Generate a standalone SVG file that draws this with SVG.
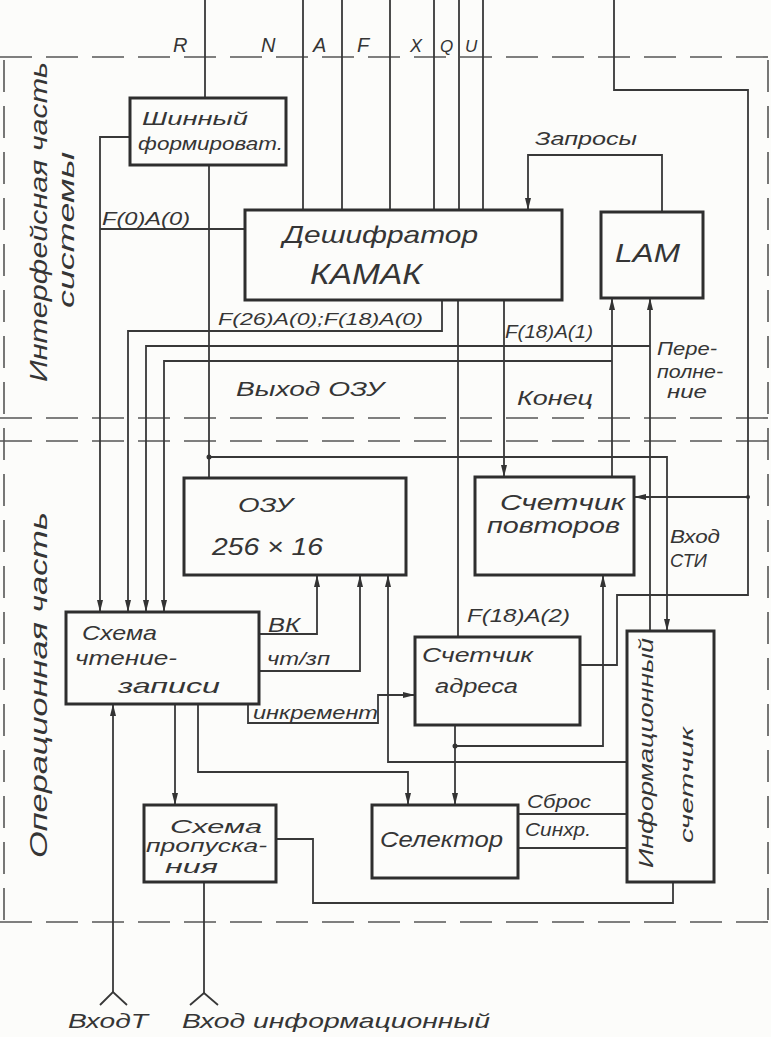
<svg xmlns="http://www.w3.org/2000/svg" width="771" height="1037" viewBox="0 0 771 1037">
<defs>
<marker id="arr" markerUnits="userSpaceOnUse" markerWidth="13" markerHeight="7" refX="12" refY="3.5" orient="auto">
<path d="M0,0.5 L12,3.5 L0,6.5 Z" fill="#333"/>
</marker>
<style>
.bg{fill:#fcfcfa}
.box{fill:none;stroke:#2e2e2e;stroke-width:3}
.ln{fill:none;stroke:#383838;stroke-width:1.8}
.dash{fill:none;stroke:#555;stroke-width:1.6;stroke-dasharray:32 14}
.t{font-family:"Liberation Sans",Arial,sans-serif;font-style:italic;fill:#353535}
.dot{fill:#333}
</style>
</defs>
<rect class="bg" x="0" y="0" width="771" height="1037"/>

<g id="boundaries">
<line class="dash" x1="0" y1="57" x2="771" y2="57"/>
<line class="dash" x1="0" y1="418" x2="771" y2="418"/>
<line class="dash" x1="0" y1="441" x2="771" y2="441"/>
<line class="dash" x1="0" y1="922" x2="771" y2="922"/>
<line class="dash" x1="4" y1="60" x2="4" y2="920"/>
<line class="dash" x1="768" y1="60" x2="768" y2="920"/>
<text class="t" font-size="24" transform="translate(47,382) rotate(-90)" textLength="320" lengthAdjust="spacingAndGlyphs">Интерфейсная часть</text>
<text class="t" font-size="22" transform="translate(74,308) rotate(-90)" textLength="156" lengthAdjust="spacingAndGlyphs">системы</text>
<text class="t" font-size="24" transform="translate(47,858) rotate(-90)" textLength="346" lengthAdjust="spacingAndGlyphs">Операционная часть</text>
</g>

<g id="connectors">
<path class="ln" d="M205,0 V98"/>
<path class="ln" d="M303,0 V210"/>
<path class="ln" d="M342,0 V210"/>
<path class="ln" d="M390,0 V210"/>
<path class="ln" d="M434,0 V210"/>
<path class="ln" d="M459,0 V210"/>
<path class="ln" d="M483,0 V210"/>
<path class="ln" d="M614,0 V90 H748 V595 H617 V665 H580"/>
<path class="ln" d="M748,497 H634" marker-end="url(#arr)"/>
<path class="ln" d="M130,137 H100 V612" marker-end="url(#arr)"/>
<path class="ln" d="M245,229 H100"/>
<path class="ln" d="M209,165 V478"/>
<path class="ln" d="M209,457 H667 V631" marker-end="url(#arr)"/>
<path class="ln" d="M662,212 V155 H528 V210" marker-end="url(#arr)"/>
<path class="ln" d="M442,300 V331 H128 V612" marker-end="url(#arr)"/>
<path class="ln" d="M650,631 V298" marker-end="url(#arr)"/>
<path class="ln" d="M650,346 H146 V612" marker-end="url(#arr)"/>
<path class="ln" d="M612,477 V298" marker-end="url(#arr)"/>
<path class="ln" d="M612,361 H164 V612" marker-end="url(#arr)"/>
<path class="ln" d="M458,300 V637"/>
<path class="ln" d="M504,300 V477" marker-end="url(#arr)"/>
<path class="ln" d="M259,634 H317 V575" marker-end="url(#arr)"/>
<path class="ln" d="M259,671 H360 V575" marker-end="url(#arr)"/>
<path class="ln" d="M627,762 H388 V575" marker-end="url(#arr)"/>
<path class="ln" d="M455,725 V805" marker-end="url(#arr)"/>
<path class="ln" d="M455,746 H603 V575" marker-end="url(#arr)"/>
<path class="ln" d="M248,704 V723 H378 V695 H415" marker-end="url(#arr)"/>
<path class="ln" d="M198,704 V772 H408 V805" marker-end="url(#arr)"/>
<path class="ln" d="M175,704 V805" marker-end="url(#arr)"/>
<path class="ln" d="M113,992 V704" marker-end="url(#arr)"/>
<path class="ln" d="M100,1005 L113,992 L127,1005"/>
<path class="ln" d="M204,882 V993"/>
<path class="ln" d="M190,1005 L204,993 L218,1005"/>
<path class="ln" d="M276,839 H313 V903 H673 V882"/>
<path class="ln" d="M518,814 H627"/>
<path class="ln" d="M518,848 H627"/>
<circle class="dot" cx="209" cy="457" r="2.5"/>
<circle class="dot" cx="455" cy="746" r="2.5"/>
<circle class="dot" cx="748" cy="497" r="2"/>
<text class="t" font-size="20" x="173" y="52">R</text>
<text class="t" font-size="20" x="261" y="52">N</text>
<text class="t" font-size="20" x="313" y="52">A</text>
<text class="t" font-size="20" x="357" y="52">F</text>
<text class="t" font-size="18" x="410" y="52">X</text>
<text class="t" font-size="17" x="440" y="52">Q</text>
<text class="t" font-size="17" x="465" y="52">U</text>
<text class="t" font-size="18" x="102" y="225" textLength="88" lengthAdjust="spacingAndGlyphs">F(0)A(0)</text>
<text class="t" font-size="19" x="535" y="145" textLength="102" lengthAdjust="spacingAndGlyphs">Запросы</text>
<text class="t" font-size="17" x="218" y="325" textLength="205" lengthAdjust="spacingAndGlyphs">F(26)A(0);F(18)A(0)</text>
<text class="t" font-size="18" x="505" y="338" textLength="88" lengthAdjust="spacingAndGlyphs">F(18)A(1)</text>
<text class="t" font-size="20" x="236" y="396" textLength="148" lengthAdjust="spacingAndGlyphs">Выход  ОЗУ</text>
<text class="t" font-size="20" x="517" y="405" textLength="76" lengthAdjust="spacingAndGlyphs">Конец</text>
<text class="t" font-size="19" x="657" y="355" textLength="60" lengthAdjust="spacingAndGlyphs">Пере-</text>
<text class="t" font-size="19" x="657" y="378" textLength="66" lengthAdjust="spacingAndGlyphs">полне-</text>
<text class="t" font-size="19" x="667" y="398" textLength="40" lengthAdjust="spacingAndGlyphs">ние</text>
<text class="t" font-size="19" x="670" y="543" textLength="50" lengthAdjust="spacingAndGlyphs">Вход</text>
<text class="t" font-size="19" x="670" y="567" textLength="37" lengthAdjust="spacingAndGlyphs">СТИ</text>
<text class="t" font-size="20" x="268" y="632" textLength="32" lengthAdjust="spacingAndGlyphs">ВК</text>
<text class="t" font-size="18" x="267" y="665" textLength="63" lengthAdjust="spacingAndGlyphs">чт/зп</text>
<text class="t" font-size="19" x="467" y="622" textLength="103" lengthAdjust="spacingAndGlyphs">F(18)A(2)</text>
<text class="t" font-size="18" x="253" y="719" textLength="125" lengthAdjust="spacingAndGlyphs">инкремент</text>
<text class="t" font-size="18" x="527" y="808" textLength="64" lengthAdjust="spacingAndGlyphs">Сброс</text>
<text class="t" font-size="18" x="525" y="836" textLength="66" lengthAdjust="spacingAndGlyphs">Синхр.</text>
<text class="t" font-size="20" x="68" y="1028" textLength="80" lengthAdjust="spacingAndGlyphs">ВходТ</text>
<text class="t" font-size="21" x="182" y="1028" textLength="308" lengthAdjust="spacingAndGlyphs">Вход информационный</text>
</g>

<g id="shinny">
<rect class="box" x="130" y="98" width="156" height="67"/>
<text class="t" font-size="19" x="142" y="125" textLength="106" lengthAdjust="spacingAndGlyphs">Шинный</text>
<text class="t" font-size="19" x="138" y="150" textLength="145" lengthAdjust="spacingAndGlyphs">формироват.</text>
</g>

<g id="deshifrator">
<rect class="box" x="245" y="210" width="317" height="90"/>
<text class="t" font-size="24" x="283" y="243" textLength="195" lengthAdjust="spacingAndGlyphs">Дешифратор</text>
<text class="t" font-size="30" x="310" y="284" textLength="112" lengthAdjust="spacingAndGlyphs">КАМАК</text>
</g>

<g id="lam">
<rect class="box" x="601" y="212" width="102" height="86"/>
<text class="t" font-size="26" x="615" y="262" textLength="65" lengthAdjust="spacingAndGlyphs">LAM</text>
</g>

<g id="ozu">
<rect class="box" x="184" y="478" width="222" height="97"/>
<text class="t" font-size="21" x="238" y="512" textLength="55" lengthAdjust="spacingAndGlyphs">ОЗУ</text>
<text class="t" font-size="23" x="212" y="555" textLength="111" lengthAdjust="spacingAndGlyphs">256 × 16</text>
</g>

<g id="schetchik-povtorov">
<rect class="box" x="475" y="477" width="159" height="98"/>
<text class="t" font-size="22" x="500" y="510" textLength="125" lengthAdjust="spacingAndGlyphs">Счетчик</text>
<text class="t" font-size="22" x="487" y="533" textLength="133" lengthAdjust="spacingAndGlyphs">повторов</text>
</g>

<g id="shema-chtenie">
<rect class="box" x="66" y="612" width="193" height="92"/>
<text class="t" font-size="21" x="82" y="640" textLength="75" lengthAdjust="spacingAndGlyphs">Схема</text>
<text class="t" font-size="21" x="75" y="665" textLength="102" lengthAdjust="spacingAndGlyphs">чтение-</text>
<text class="t" font-size="21" x="118" y="693" textLength="102" lengthAdjust="spacingAndGlyphs">записи</text>
</g>

<g id="schetchik-adresa">
<rect class="box" x="415" y="637" width="165" height="88"/>
<text class="t" font-size="20" x="422" y="662" textLength="111" lengthAdjust="spacingAndGlyphs">Счетчик</text>
<text class="t" font-size="20" x="435" y="693" textLength="83" lengthAdjust="spacingAndGlyphs">адреса</text>
</g>

<g id="inf-schetchik">
<rect class="box" x="627" y="631" width="87" height="251"/>
<text class="t" font-size="20" transform="translate(653,868) rotate(-90)" textLength="230" lengthAdjust="spacingAndGlyphs">Информационный</text>
<text class="t" font-size="19" transform="translate(693,843) rotate(-90)" textLength="116" lengthAdjust="spacingAndGlyphs">счетчик</text>
</g>

<g id="shema-propuskaniya">
<rect class="box" x="144" y="805" width="132" height="77"/>
<text class="t" font-size="19" x="170" y="833" textLength="92" lengthAdjust="spacingAndGlyphs">Схема</text>
<text class="t" font-size="19" x="146" y="852" textLength="121" lengthAdjust="spacingAndGlyphs">пропуска-</text>
<text class="t" font-size="19" x="165" y="873" textLength="53" lengthAdjust="spacingAndGlyphs">ния</text>
</g>

<g id="selektor">
<rect class="box" x="372" y="805" width="146" height="73"/>
<text class="t" font-size="22" x="380" y="847" textLength="123" lengthAdjust="spacingAndGlyphs">Селектор</text>
</g>
</svg>
